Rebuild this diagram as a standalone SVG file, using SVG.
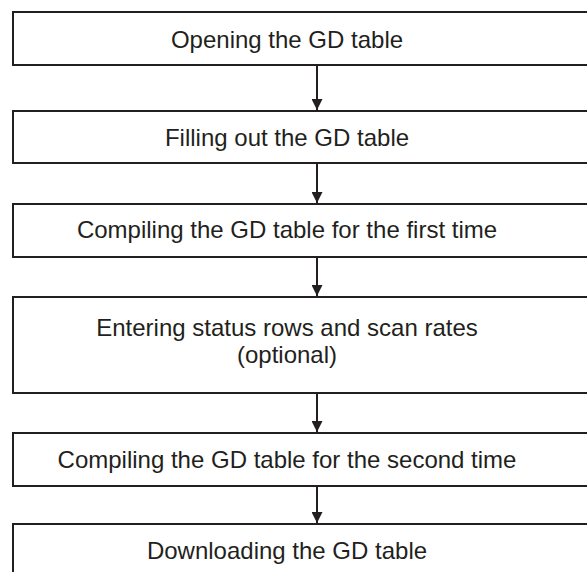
<svg xmlns="http://www.w3.org/2000/svg" width="587" height="572" viewBox="0 0 587 572">
<style>
.box{fill:#fff;stroke:#231f20;stroke-width:2}
.lbl{font-family:"Liberation Sans",Arial,sans-serif;font-size:24px;fill:#231f20;text-anchor:middle}
.conn{stroke:#231f20;stroke-width:2;fill:none}
</style>
<defs>
<marker id="ah" markerWidth="11" markerHeight="11" refX="11" refY="5.5" orient="auto" markerUnits="userSpaceOnUse">
<path d="M0,0 L11,5.5 L0,11 Z" fill="#231f20"/>
</marker>
</defs>
<rect width="587" height="572" fill="#fff"/>
<g id="n1"><rect class="box" x="13" y="12" width="600" height="53"/><text class="lbl" x="287" y="48">Opening the GD table</text></g>
<g id="n2"><rect class="box" x="13" y="111" width="600" height="52"/><text class="lbl" x="287" y="146">Filling out the GD table</text></g>
<g id="n3"><rect class="box" x="13" y="204" width="600" height="53"/><text class="lbl" x="287" y="238">Compiling the GD table for the first time</text></g>
<g id="n4"><rect class="box" x="13" y="297" width="600" height="96"/><text class="lbl" x="287" y="336">Entering status rows and scan rates</text><text class="lbl" x="287" y="363">(optional)</text></g>
<g id="n5"><rect class="box" x="13" y="433" width="600" height="53"/><text class="lbl" x="287" y="468">Compiling the GD table for the second time</text></g>
<g id="n6"><rect class="box" x="13" y="524" width="600" height="60"/><text class="lbl" x="287" y="559">Downloading the GD table</text></g>
<g id="connectors">
<line class="conn" x1="317" y1="65" x2="317" y2="110" marker-end="url(#ah)"/>
<line class="conn" x1="317" y1="163" x2="317" y2="203" marker-end="url(#ah)"/>
<line class="conn" x1="317" y1="257" x2="317" y2="296" marker-end="url(#ah)"/>
<line class="conn" x1="317" y1="393" x2="317" y2="432" marker-end="url(#ah)"/>
<line class="conn" x1="317" y1="486" x2="317" y2="523" marker-end="url(#ah)"/>
</g>
</svg>
